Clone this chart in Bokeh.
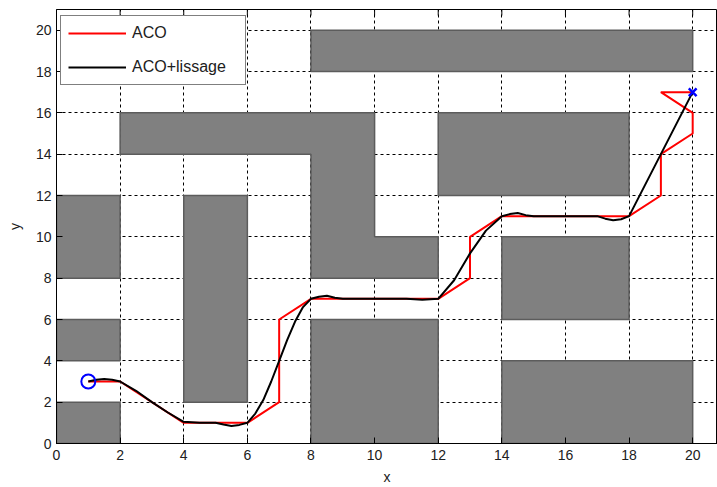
import math
from bokeh.plotting import figure
from bokeh.models import Range1d, Legend, LegendItem, FixedTicker
from bokeh.embed import file_html
from bokeh.resources import INLINE

# Obstacles (rectangles)
obs_left = [0, 0, 0, 4, 8, 12, 8, 14, 14]
obs_right = [2, 2, 2, 6, 20, 18, 12, 18, 20]
obs_bottom = [0, 4, 8, 2, 18, 12, 0, 6, 0]
obs_top = [2, 6, 12, 12, 20, 16, 6, 10, 4]

# L-shaped obstacle polygon
lshape_x = [2, 2, 10, 10, 12, 12, 8, 8]
lshape_y = [14, 16, 16, 10, 10, 8, 8, 14]

# ACO path
aco_x = [1, 2, 4, 6, 7, 7, 8, 12, 13, 13, 14, 18, 19, 19, 20, 20, 19, 20]
aco_y = [3, 3, 1, 1, 2, 6, 7, 7, 8, 10, 11, 11, 12, 14, 15, 16, 17, 17]

# ACO + smoothing path
smooth_x = [1, 1.25, 1.5, 1.75, 2, 2.5, 3, 3.5, 4, 4.5, 5, 5.25, 5.5, 5.75, 6, 6.25, 6.5,
            6.75, 7, 7.25, 7.5, 7.75, 8, 8.25, 8.5, 8.75, 9, 10, 11, 11.5, 12, 12.5, 13,
            13.5, 14, 14.25, 14.5, 14.75, 15, 16, 17, 17.25, 17.5, 17.75, 18, 18.5, 19,
            19.5, 20]
smooth_y = [3, 3.08, 3.12, 3.08, 3, 2.55, 2.0, 1.5, 1.05, 1.0, 1.0, 0.92, 0.85, 0.9, 1.0,
            1.45, 2.1, 3.0, 4.0, 5.0, 5.9, 6.6, 7.0, 7.1, 7.15, 7.05, 7.0, 7.0, 7.0, 6.95,
            7.0, 7.9, 9.2, 10.3, 11.0, 11.1, 11.15, 11.05, 11.0, 11.0, 11.0, 10.88, 10.8,
            10.85, 11.0, 12.5, 14.0, 15.5, 17.0]

start_pt = (1, 3)
end_pt = (20, 17)

ticks = [0, 2, 4, 6, 8, 10, 12, 14, 16, 18, 20]
Y_TOP = 21
FONT = "Liberation Sans"

p = figure(width=717, height=487, output_backend="svg", toolbar_location=None,
           x_range=Range1d(0, 20.78), y_range=Range1d(0, Y_TOP),
           min_border_left=56, min_border_right=0, min_border_top=9,
           min_border_bottom=43)
p.background_fill_color = "white"
p.border_fill_color = "white"
p.outline_line_color = "black"
p.outline_line_width = 1

for ax in (p.xaxis[0], p.yaxis[0]):
    ax.ticker = FixedTicker(ticks=ticks)
    ax.major_tick_in = 6
    ax.major_tick_out = 0
    ax.minor_tick_in = 0
    ax.minor_tick_out = 0
    ax.axis_line_color = "black"
    ax.major_tick_line_color = "black"
    ax.major_label_text_font = FONT
    ax.major_label_text_font_size = "14px"
    ax.major_label_text_color = "#202020"
    ax.axis_label_text_font = FONT
    ax.axis_label_text_font_size = "14px"
    ax.axis_label_text_font_style = "normal"
    ax.axis_label_text_color = "#202020"

p.xaxis[0].axis_label = "x"
p.yaxis[0].axis_label = "y"
p.xaxis[0].major_label_standoff = 6
p.xaxis[0].axis_label_standoff = 6
p.yaxis[0].major_label_standoff = 5
p.yaxis[0].axis_label_standoff = 10

for g in (p.xgrid[0], p.ygrid[0]):
    g.ticker = FixedTicker(ticks=ticks)
    g.grid_line_color = "black"
    g.grid_line_dash = "3 3"
    g.grid_line_width = 1
    g.grid_line_alpha = 1.0

p.quad(left=obs_left, right=obs_right, bottom=obs_bottom, top=obs_top,
       fill_color="#808080", line_color="#5c5c5c", line_width=1.5)
p.patch(lshape_x, lshape_y, fill_color="#808080", line_color="#5c5c5c", line_width=1.5)

# inward tick marks along the top frame edge (MATLAB box style)
p.ray(x=ticks, y=[Y_TOP] * len(ticks), length=6, length_units="screen",
      angle=-math.pi / 2, line_color="black", line_width=1)

r_aco = p.line(aco_x, aco_y, line_color="#ff0000", line_width=2)
r_smooth = p.line(smooth_x, smooth_y, line_color="black", line_width=2)

p.scatter([start_pt[0]], [start_pt[1]], marker="circle", size=14, fill_color=None,
          line_color="#0000ff", line_width=2)
p.scatter([end_pt[0]], [end_pt[1]], marker="x", size=11, line_color="#0000ff", line_width=2.5)

legend = Legend(items=[LegendItem(label="ACO", renderers=[r_aco]),
                       LegendItem(label="ACO+lissage", renderers=[r_smooth])],
                location=(4, 358), padding=7, spacing=14, glyph_width=58, glyph_height=20,
                label_height=20, label_standoff=6, label_width=106,
                label_text_font=FONT, label_text_font_size="16px",
                label_text_color="#202020",
                border_line_color="black", border_line_width=1,
                background_fill_color="white", background_fill_alpha=1.0, margin=0)
p.add_layout(legend, "center")

open("out.html", "w").write(file_html(p, INLINE))
